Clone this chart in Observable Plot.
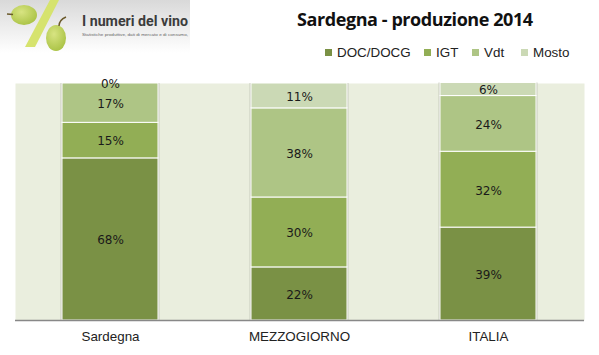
<!DOCTYPE html>
<html><head><meta charset="utf-8">
<script src="https://cdn.jsdelivr.net/npm/d3@7"></script>
<script src="https://cdn.jsdelivr.net/npm/@observablehq/plot@0.6"></script>
<style>
html,body{margin:0;padding:0;background:#fff;width:599px;height:355px;overflow:hidden}
#wrap{position:relative;width:599px;height:355px}
#wrap>div,#wrap>svg.logo{position:absolute}
#title{left:297px;top:7px;font:bold 18px "Open Sans",sans-serif;letter-spacing:-.42px;color:#111;white-space:nowrap}
.lg{top:44px;font:13.4px "Liberation Sans",sans-serif;color:#222;white-space:nowrap;line-height:18px}
.lg i{display:inline-block;width:7px;height:7px;margin-right:5px;vertical-align:1px}
#chart svg{display:block}
</style></head><body>
<div id="wrap">
<div id="chart" style="left:0;top:0"></div>
<svg class="logo" style="left:0;top:0" width="200" height="62" viewBox="0 0 200 62">
<defs><linearGradient id="g" x1="0" y1="0" x2="0" y2="1"><stop offset="0" stop-color="#d9d9d9"/><stop offset=".85" stop-color="#fff"/></linearGradient>
<radialGradient id="gr" cx=".4" cy=".35" r=".7"><stop offset="0" stop-color="#d8e482"/><stop offset="1" stop-color="#a9c244"/></radialGradient></defs>
<rect width="190" height="62" fill="url(#g)"/>
<path d="M50 0 L59 0 L35 47 L25 47 Z" fill="#d6e36e"/>
<ellipse cx="24" cy="15" rx="13" ry="10" fill="url(#gr)"/>
<path d="M7 14 L13 14.5" stroke="#6b5a2b" stroke-width="1.5"/>
<ellipse cx="56" cy="38" rx="10" ry="13" fill="url(#gr)"/>
<path d="M59 26 Q59 20 66 17" stroke="#6b5a2b" stroke-width="1.5" fill="none"/>
<text x="82" y="26" font-family="Roboto" font-weight="bold" font-size="15.5" fill="#3c3c3c" textLength="106" lengthAdjust="spacingAndGlyphs">I numeri del vino</text>
<text x="82" y="35.5" font-family="Liberation Sans" font-size="4" fill="#666" textLength="106" lengthAdjust="spacingAndGlyphs">Statistiche produttive, dati di mercato e di consumo,</text>
</svg>
<div id="title">Sardegna - produzione 2014</div>
<div id="legend"></div>
</div>
<script>
const regions = ["Sardegna", "MEZZOGIORNO", "ITALIA"];
const types = ["DOC/DOCG", "IGT", "Vdt", "Mosto"];
const colors = ["#7a9145", "#92ae55", "#aec585", "#cbd9b5"];
const docValues = [68.4, 22.4, 39.2];
const igtValues = [15.0, 29.5, 32.0];
const vdtValues = [16.6, 37.6, 23.5];
const mostoValues = [0, 10.5, 5.5];
const legendLeft = [325, 424, 472, 521];

const series = [docValues, igtValues, vdtValues, mostoValues];
const rows = types.flatMap((t, i) => regions.map((r, j) => ({region: r, type: t, value: series[i][j]})));
const stack = {x: "region", y: "value", z: "type", order: types};

const plot = Plot.plot({
  width: 599, height: 355,
  marginLeft: 15, marginRight: 15, marginTop: 83, marginBottom: 35,
  style: {background: "transparent"},
  x: {domain: regions, paddingInner: 0.49, paddingOuter: 0.245, label: null},
  y: {domain: [0, 100], axis: null},
  color: {domain: types, range: colors},
  marks: [
    Plot.frame({fill: "#eaeede", stroke: null}),
    Plot.barY(rows, Plot.stackY({...stack, fill: "#c8cbbd", insetLeft: -1.5, insetRight: -1.5})),
    Plot.barY(rows, Plot.stackY({...stack, fill: "type", stroke: "#fff", strokeWidth: 1})),
    Plot.text(rows, Plot.stackY({...stack, text: d => Math.round(d.value) + "%", fill: "#1a1a1a",
      fontFamily: "DejaVu Sans", fontSize: 12, dy: 1})),
    Plot.ruleY([0], {stroke: "#888", strokeWidth: 1.5}),
    Plot.axisX({tickSize: 0, tickPadding: 11, label: null, fontFamily: "Liberation Sans", fontSize: 13.4, fill: "#222"})
  ]
});
document.getElementById("chart").appendChild(plot);

const lg = document.getElementById("legend");
lg.style.cssText = "left:0;top:0";
types.forEach((t, i) => {
  const d = document.createElement("div");
  d.className = "lg"; d.style.position = "absolute"; d.style.left = legendLeft[i] + "px";
  const sw = document.createElement("i"); sw.style.background = colors[i];
  d.append(sw, t); lg.appendChild(d);
});
</script>
</body></html>
